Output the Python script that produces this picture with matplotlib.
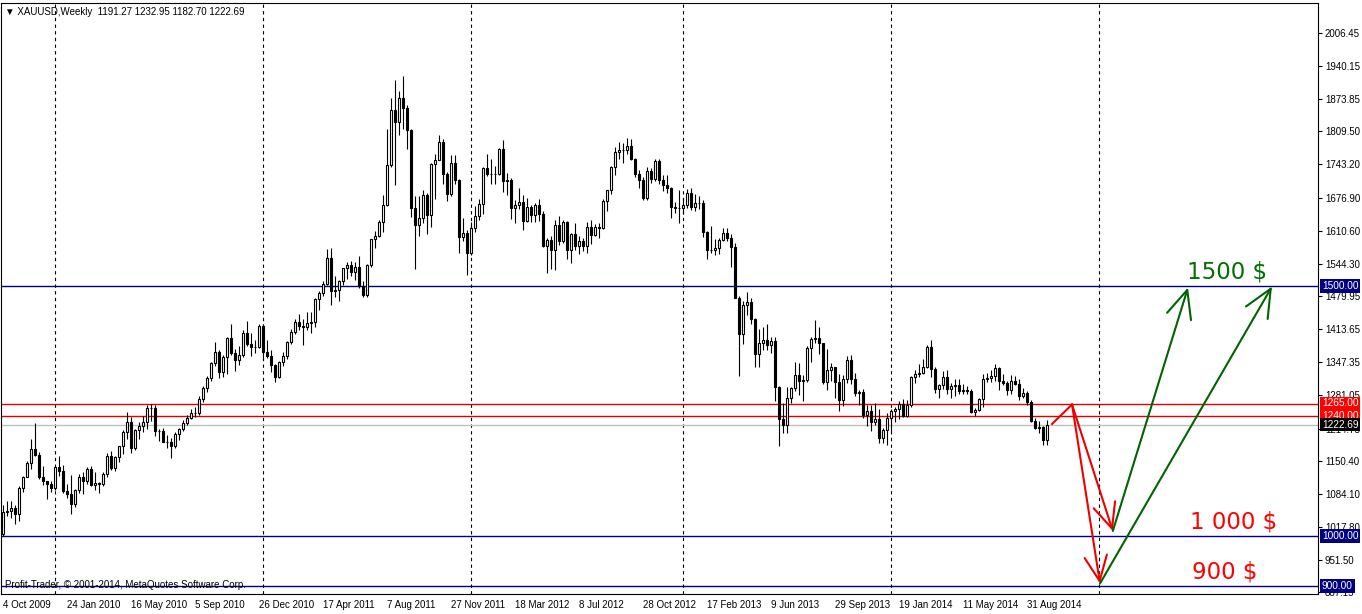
import numpy as np
import matplotlib.pyplot as plt
from matplotlib.transforms import blended_transform_factory

# weekly XAUUSD candles, 4 Oct 2009 .. 5 Oct 2014 (open = previous close)
first_open = 1004.0
closes = [
    1048, 1050, 1056, 1045, 1096, 1118, 1146, 1175, 1163, 1119,
    1110, 1104, 1096, 1138, 1130, 1091, 1084, 1064, 1093, 1118,
    1110, 1134, 1102, 1107, 1104, 1125, 1161, 1136, 1158, 1180,
    1209, 1228, 1177, 1212, 1220, 1228, 1256, 1256, 1210, 1210,
    1189, 1188, 1181, 1205, 1215, 1227, 1237, 1247, 1246, 1275,
    1297, 1317, 1346, 1368, 1328, 1358, 1397, 1366, 1352, 1362,
    1406, 1385, 1378, 1379, 1421, 1369, 1360, 1343, 1319, 1348,
    1360, 1388, 1409, 1429, 1421, 1418, 1427, 1429, 1474, 1486,
    1504, 1556, 1491, 1492, 1511, 1536, 1542, 1529, 1539, 1500,
    1483, 1542, 1594, 1601, 1628, 1663, 1743, 1852, 1828, 1877,
    1856, 1812, 1657, 1622, 1636, 1683, 1642, 1745, 1753, 1788,
    1724, 1684, 1746, 1712, 1598, 1606, 1566, 1616, 1640, 1665,
    1737, 1725, 1725, 1725, 1774, 1710, 1713, 1657, 1662, 1669,
    1631, 1659, 1642, 1663, 1645, 1580, 1592, 1572, 1622, 1590,
    1628, 1572, 1604, 1580, 1590, 1581, 1619, 1603, 1619, 1616,
    1671, 1692, 1738, 1768, 1773, 1773, 1780, 1755, 1724, 1712,
    1676, 1731, 1714, 1751, 1712, 1702, 1696, 1658, 1657, 1656,
    1662, 1687, 1659, 1667, 1667, 1609, 1573, 1572, 1577, 1592,
    1606, 1596, 1579, 1476, 1405, 1462, 1469, 1435, 1365, 1386,
    1392, 1383, 1391, 1298, 1234, 1223, 1277, 1296, 1322, 1310,
    1312, 1376, 1395, 1396, 1386, 1308, 1332, 1338, 1309, 1272,
    1315, 1352, 1314, 1287, 1288, 1243, 1250, 1229, 1234, 1197,
    1213, 1237, 1250, 1254, 1264, 1240, 1262, 1318, 1324, 1327,
    1339, 1379, 1334, 1294, 1302, 1318, 1294, 1301, 1302, 1290,
    1293, 1291, 1249, 1252, 1275, 1315, 1316, 1320, 1337, 1310,
    1306, 1293, 1310, 1305, 1280, 1287, 1269, 1231, 1216, 1218,
    1191.27, 1222.69,
]
highs = [
    1062, 1070, 1070, 1063, 1100, 1121, 1150, 1195, 1226, 1169,
    1141, 1111, 1110, 1140, 1161, 1142, 1104, 1123, 1095, 1125,
    1128, 1139, 1141, 1128, 1109, 1128, 1166, 1170, 1160, 1181,
    1212, 1249, 1238, 1215, 1228, 1240, 1262, 1265, 1262, 1215,
    1216, 1202, 1196, 1209, 1216, 1233, 1242, 1255, 1259, 1280,
    1300, 1321, 1349, 1388, 1372, 1362, 1398, 1424, 1375, 1380,
    1412, 1431, 1407, 1392, 1424, 1424, 1392, 1372, 1345, 1351,
    1368, 1390, 1415, 1435, 1445, 1435, 1448, 1448, 1476, 1490,
    1510, 1575, 1577, 1521, 1513, 1537, 1549, 1551, 1549, 1560,
    1511, 1544, 1595, 1610, 1632, 1682, 1814, 1877, 1912, 1890,
    1921, 1863, 1815, 1680, 1680, 1692, 1686, 1747, 1764, 1803,
    1795, 1728, 1762, 1763, 1715, 1636, 1613, 1628, 1660, 1675,
    1739, 1764, 1755, 1741, 1777, 1792, 1726, 1716, 1673, 1697,
    1682, 1676, 1663, 1666, 1675, 1650, 1596, 1600, 1632, 1641,
    1632, 1631, 1607, 1627, 1600, 1596, 1628, 1632, 1624, 1626,
    1675, 1693, 1741, 1778, 1788, 1787, 1796, 1794, 1757, 1732,
    1719, 1738, 1737, 1754, 1755, 1723, 1723, 1699, 1668, 1693,
    1677, 1694, 1697, 1684, 1680, 1672, 1611, 1620, 1594, 1596,
    1617, 1616, 1605, 1587, 1480, 1470, 1488, 1477, 1436, 1415,
    1419, 1424, 1399, 1398, 1300, 1267, 1298, 1298, 1349, 1347,
    1323, 1380, 1398, 1433, 1419, 1387, 1374, 1347, 1338, 1324,
    1323, 1361, 1362, 1327, 1293, 1294, 1263, 1262, 1267, 1254,
    1217, 1246, 1255, 1258, 1270, 1275, 1272, 1320, 1332, 1345,
    1355, 1383, 1392, 1339, 1305, 1331, 1332, 1306, 1315, 1315,
    1305, 1300, 1294, 1256, 1277, 1325, 1327, 1332, 1345, 1339,
    1324, 1311, 1322, 1321, 1315, 1296, 1291, 1272, 1237, 1230,
    1221, 1232.95,
]
lows = [
    1000, 1040, 1037, 1025, 1031, 1088, 1118, 1134, 1160, 1115,
    1103, 1075, 1088, 1092, 1120, 1086, 1077, 1045, 1058, 1087,
    1084, 1105, 1101, 1092, 1087, 1100, 1119, 1133, 1130, 1148,
    1165, 1195, 1166, 1172, 1195, 1208, 1215, 1230, 1200, 1190,
    1188, 1176, 1157, 1177, 1192, 1210, 1222, 1234, 1238, 1243,
    1268, 1288, 1310, 1340, 1316, 1318, 1324, 1362, 1330, 1343,
    1359, 1380, 1361, 1367, 1377, 1353, 1357, 1329, 1309, 1316,
    1340, 1355, 1384, 1405, 1413, 1382, 1413, 1406, 1418, 1452,
    1481, 1502, 1462, 1478, 1470, 1503, 1515, 1521, 1512, 1497,
    1478, 1478, 1538, 1577, 1599, 1608, 1660, 1738, 1702, 1802,
    1815, 1775, 1639, 1534, 1600, 1626, 1604, 1618, 1675, 1753,
    1704, 1670, 1680, 1705, 1566, 1590, 1523, 1562, 1608, 1632,
    1645, 1720, 1705, 1705, 1723, 1688, 1683, 1635, 1627, 1655,
    1612, 1629, 1628, 1628, 1631, 1578, 1527, 1535, 1532, 1582,
    1587, 1555, 1547, 1573, 1564, 1570, 1567, 1585, 1600, 1597,
    1614, 1650, 1684, 1722, 1755, 1747, 1764, 1752, 1718, 1697,
    1672, 1672, 1707, 1710, 1705, 1691, 1687, 1636, 1646, 1626,
    1645, 1656, 1653, 1651, 1655, 1598, 1555, 1566, 1562, 1565,
    1590, 1590, 1539, 1476, 1321, 1385, 1443, 1424, 1338, 1338,
    1372, 1372, 1366, 1270, 1180, 1207, 1207, 1267, 1291, 1283,
    1271, 1308, 1348, 1386, 1364, 1305, 1292, 1311, 1277, 1251,
    1260, 1306, 1305, 1280, 1262, 1237, 1221, 1211, 1223, 1187,
    1186, 1182, 1211, 1228, 1234, 1238, 1238, 1259, 1306, 1319,
    1325, 1336, 1319, 1287, 1277, 1295, 1285, 1277, 1281, 1284,
    1285, 1284, 1246, 1240, 1251, 1259, 1309, 1309, 1311, 1292,
    1302, 1282, 1284, 1302, 1273, 1277, 1262, 1229, 1214, 1207,
    1183, 1182.70,
]

date_labels = ["4 Oct 2009", "24 Jan 2010", "16 May 2010", "5 Sep 2010",
               "26 Dec 2010", "17 Apr 2011", "7 Aug 2011", "27 Nov 2011",
               "18 Mar 2012", "8 Jul 2012", "28 Oct 2012", "17 Feb 2013",
               "9 Jun 2013", "29 Sep 2013", "19 Jan 2014", "11 May 2014",
               "31 Aug 2014"]
date_weeks = list(range(0, 257, 16))
year_weeks = [13, 65, 117, 170, 222, 274]   # period separators (first week of year)

price_ticks = [2006.45, 1940.15, 1873.85, 1809.50, 1743.20, 1676.90, 1610.60,
               1544.30, 1479.95, 1413.65, 1347.35, 1281.05, 1214.75, 1150.40,
               1084.10, 1017.80, 951.50, 887.15]

level_prices = [1500.00, 1265.00, 1240.00, 1222.69, 1000.00, 900.00]
level_colors = ["#000080", "#e00000", "#e00000", "#c0c0c0", "#000080", "#000080"]
level_boxes = ["#000080", "#ff0000", "#ff0000", "#000000", "#000080", "#000080"]

# forecast path (week index, price)
red_start = (262.2, 1224)
red_peak = (267.2, 1263)
red_targets = [(277.4, 1010), (274.2, 905)]
green_targets = [(296.2, 1497), (317.2, 1499)]

small = ["Liberation Sans Narrow", "Liberation Sans", "DejaVu Sans"]
fs = 7.0

fig = plt.figure(figsize=(13.62, 6.14), dpi=100)
ax = fig.add_axes([1 / 1362, 1 - 594 / 614, 1317 / 1362, 591 / 614])

x = np.arange(len(closes))
c = np.array(closes, dtype=float)
o = np.concatenate([[first_open], c[:-1]])
h = np.array(highs, dtype=float)
l = np.array(lows, dtype=float)
up = c >= o

ax.vlines(x, l, h, color="black", lw=0.8, zorder=3)
ax.bar(x[up], (c - o)[up], bottom=o[up], width=0.5, facecolor="white",
       edgecolor="black", linewidth=0.8, zorder=4)
ax.bar(x[~up], (c - o)[~up], bottom=o[~up], width=0.5, facecolor="black",
       edgecolor="black", linewidth=0.8, zorder=4)

for w in year_weeks:
    ax.axvline(w, color="black", lw=0.8, ls=(0, (3, 3)), zorder=1)

for p, col in zip(level_prices, level_colors):
    ax.axhline(p, color=col, lw=1.0, zorder=2)

ax.set_xlim(-0.575, 328.7)
ax.set_ylim(884, 2066)

ax.yaxis.tick_right()
ax.set_yticks(price_ticks)
ax.set_yticklabels([f"{t:.2f}" for t in price_ticks], family=small, fontsize=fs)
ax.tick_params(axis="y", length=3, width=0.8, pad=2, direction="out")
ax.set_xticks(date_weeks)
ax.set_xticklabels(date_labels, family=small, fontsize=fs, ha="left")
ax.tick_params(axis="x", length=0, pad=4)
for s in ax.spines.values():
    s.set_linewidth(0.8)

tr = blended_transform_factory(ax.transAxes, ax.transData)
for p, col in zip(level_prices, level_boxes):
    ax.text(1.003, p, f"{p:.2f}", transform=tr, ha="left", va="center",
            color="white", family=small, fontsize=fs + 0.3, zorder=10, clip_on=False,
            bbox=dict(boxstyle="square,pad=0.18", fc=col, ec="none"))

ax.text(0.003, 0.985, "\u25bc XAUUSD,Weekly  1191.27 1232.95 1182.70 1222.69",
        transform=ax.transAxes, ha="left", va="center", family=small,
        fontsize=fs, color="black")
ax.text(0.003, 0.006, "Profit-Trader, \u00a9 2001-2014, MetaQuotes Software Corp.",
        transform=ax.transAxes, ha="left", va="bottom", family=small,
        fontsize=fs, color="black")

# forecast arrows
red = "#ee0000"
green = "#006400"
head = "->,head_length=1.0,head_width=0.45"
ax.plot([red_start[0], red_peak[0]], [red_start[1], red_peak[1]], color=red, lw=1.5)
for t in red_targets:
    ax.annotate("", xy=t, xytext=red_peak,
                arrowprops=dict(arrowstyle=head, color=red, lw=1.5,
                                shrinkA=0, shrinkB=0, mutation_scale=18))
for s_, t in zip(red_targets, green_targets):
    ax.annotate("", xy=t, xytext=s_,
                arrowprops=dict(arrowstyle=head, color=green, lw=1.5,
                                shrinkA=0, shrinkB=0, mutation_scale=20))

ax.text(295.9, 1528, "1500 $", color="#007000", fontsize=16.5, va="center", ha="left")
ax.text(296.7, 1028, "1 000 $", color="#ff0000", fontsize=16.5, va="center", ha="left")
ax.text(297.2, 928, "900 $", color="#ff0000", fontsize=16.5, va="center", ha="left")

fig.savefig("out.png", dpi=100)
